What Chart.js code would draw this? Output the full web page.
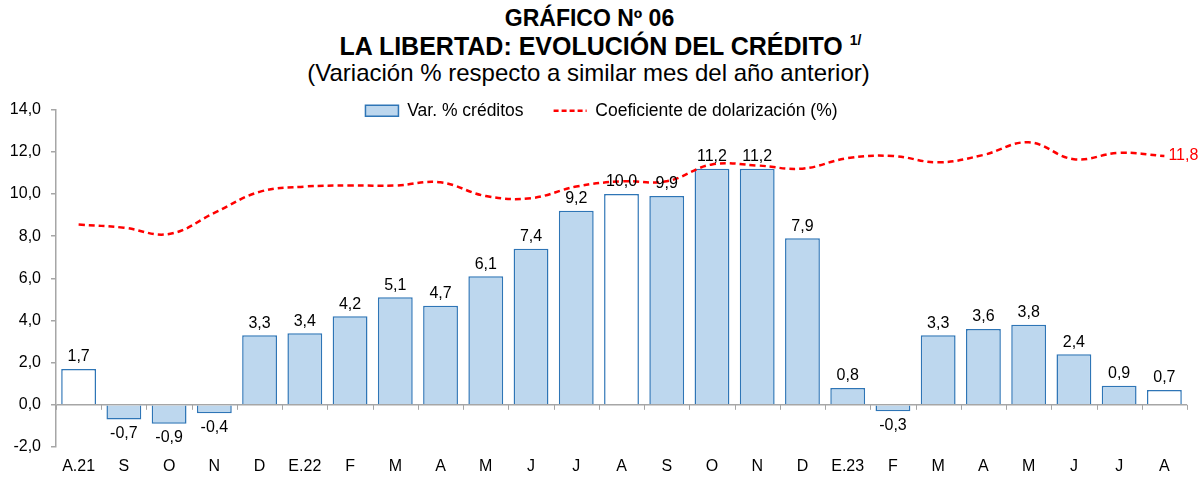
<!DOCTYPE html>
<html>
<head>
<meta charset="utf-8">
<script src="https://cdn.jsdelivr.net/npm/chart.js@4.4.0/dist/chart.umd.min.js"></script>
<style>
  html, body { margin: 0; padding: 0; background: #fff; }
  body { width: 1201px; height: 477px; overflow: hidden; font-family: "Liberation Sans", Arial, sans-serif; color: #000; }
  #titles { height: 90px; text-align: center; white-space: nowrap; }
  .t1 { font-weight: bold; font-size: 23px; line-height: 28px; padding-top: 4px; height: 28px; padding-right: 22px; }
  .t2 { font-weight: bold; font-size: 25px; line-height: 28px; height: 28px; }
  .t2 sup { font-size: 14px; vertical-align: 10px; line-height: 0; }
  .t3 { font-size: 24px; line-height: 26px; padding-right: 24px; }
  #wrap { position: relative; width: 1201px; height: 387px; }
</style>
</head>
<body>
<div id="titles">
  <div class="t1">GRÁFICO Nº 06</div>
  <div class="t2">LA LIBERTAD: EVOLUCIÓN DEL CRÉDITO <sup>1/</sup></div>
  <div class="t3">(Variación % respecto a similar mes del año anterior)</div>
</div>
<div id="wrap"><canvas id="creditoChart"></canvas></div>
<script>
// Data
const months = ['A.21', 'S', 'O', 'N', 'D', 'E.22', 'F', 'M', 'A', 'M', 'J', 'J',
                'A', 'S', 'O', 'N', 'D', 'E.23', 'F', 'M', 'A', 'M', 'J', 'J', 'A'];
const creditVar = [1.7, -0.7, -0.9, -0.4, 3.3, 3.4, 4.2, 5.1, 4.7, 6.1, 7.4, 9.2,
                   10.0, 9.9, 11.2, 11.2, 7.9, 0.8, -0.3, 3.3, 3.6, 3.8, 2.4, 0.9, 0.7];
const dollarization = [8.55, 8.4, 8.1, 9.1, 10.1, 10.35, 10.4, 10.4, 10.55, 9.9, 9.8, 10.35,
                       10.6, 10.6, 11.4, 11.35, 11.2, 11.7, 11.8, 11.5, 11.85, 12.45, 11.65, 11.95, 11.8];
const yTicks = { min: -2, max: 14, step: 2 };

const BAR_FILL = '#BDD7EE';
const BAR_LINE = '#2E75B6';
const RED = '#FF0000';
const AXIS = '#A6A6A6';
const FONT = '"Liberation Sans", Arial, sans-serif';
const LEGEND_PAD = 30;

const fmt = v => v.toFixed(1).replace('.', ',');
// August of each year is drawn hollow
const isHollow = i => i % 12 === 0;

// value labels on bars and last point of the line
const valueLabels = {
  id: 'valueLabels',
  afterDatasetsDraw(chart) {
    const ctx = chart.ctx;
    ctx.save();
    ctx.font = '16px ' + FONT;
    ctx.textAlign = 'center';
    const barMeta = chart.getDatasetMeta(0);
    barMeta.data.forEach((bar, i) => {
      const v = creditVar[i];
      ctx.fillStyle = '#000';
      if (v >= 0) {
        ctx.textBaseline = 'bottom';
        ctx.fillText(fmt(v), bar.x, bar.y - 4);
      } else {
        ctx.textBaseline = 'top';
        ctx.fillText(fmt(v), bar.x, bar.y + 6);
      }
    });
    const lineMeta = chart.getDatasetMeta(1);
    const last = lineMeta.data[lineMeta.data.length - 1];
    ctx.fillStyle = RED;
    ctx.textAlign = 'left';
    ctx.textBaseline = 'middle';
    ctx.fillText(fmt(dollarization[dollarization.length - 1]), last.x + 4, last.y);
    ctx.restore();
  }
};

// tick marks under the zero line between categories
const zeroTicks = {
  id: 'zeroTicks',
  beforeDatasetsDraw(chart) {
    const x = chart.scales.x, y = chart.scales.y;
    const y0 = y.getPixelForValue(0);
    const half = (x.getPixelForValue(1) - x.getPixelForValue(0)) / 2;
    const ctx = chart.ctx;
    ctx.save();
    ctx.strokeStyle = AXIS;
    ctx.lineWidth = 1;
    for (let i = 0; i <= months.length; i++) {
      const px = Math.round(x.getPixelForValue(i) - half) + 0.5;
      ctx.beginPath();
      ctx.moveTo(px, y0);
      ctx.lineTo(px, y0 + 5);
      ctx.stroke();
    }
    ctx.restore();
  }
};

// the legend sits over the top of the plot, like in the original
const legendOverlap = {
  id: 'legendOverlap',
  beforeInit(chart) {
    const fit = chart.legend.fit;
    chart.legend.fit = function () {
      fit.call(this);
      this.height = 2;
    };
  },
  afterLayout(chart) {
    const lg = chart.legend;
    lg.top = 12 - LEGEND_PAD;
    lg.bottom = lg.top + 2 * LEGEND_PAD + 20;
    lg.left += 8;
    lg.right += 8;
  }
};

const ctx = document.getElementById('creditoChart').getContext('2d');
const creditoChart = new Chart(ctx, {
  type: 'bar',
  data: {
    labels: months,
    datasets: [{
      label: 'Var. % créditos',
      data: creditVar,
      backgroundColor: c => isHollow(c.dataIndex) ? '#FFFFFF' : BAR_FILL,
      borderColor: BAR_LINE,
      borderWidth: 1.5,
      barPercentage: 0.77,
      categoryPercentage: 1,
      order: 1
    }, {
      type: 'line',
      label: 'Coeficiente de dolarización (%)',
      data: dollarization,
      borderColor: RED,
      backgroundColor: RED,
      borderWidth: 2.5,
      borderDash: [6, 4],
      pointRadius: 0,
      tension: 0.4,
      fill: false,
      pointStyle: 'line',
      order: 0
    }]
  },
  options: {
    responsive: true,
    maintainAspectRatio: false,
    animation: false,
    layout: { padding: { top: 8, right: 14, bottom: 0, left: 0 } },
    plugins: {
      legend: {
        position: 'top',
        labels: {
          font: { family: FONT, size: 17.5 },
          color: '#000',
          usePointStyle: true,
          pointStyleWidth: 33,
          boxHeight: 11,
          padding: LEGEND_PAD,
          sort: (a, b) => a.datasetIndex - b.datasetIndex,
          generateLabels(chart) {
            const items = Chart.defaults.plugins.legend.labels.generateLabels(chart);
            items.forEach(it => {
              if (it.datasetIndex === 0) {
                it.fillStyle = BAR_FILL;
                it.strokeStyle = BAR_LINE;
                it.pointStyle = 'rect';
                it.lineWidth = 1.5;
              } else {
                it.pointStyle = 'line';
                it.lineWidth = 2.5;
                it.lineDash = [5, 3];
              }
            });
            return items;
          }
        }
      },
      tooltip: { enabled: false }
    },
    scales: {
      x: {
        afterFit(scale) { scale.height = 30; },
        grid: { display: false, drawTicks: false },
        border: { display: false },
        ticks: { font: { family: FONT, size: 16 }, color: '#000', padding: 10, maxRotation: 0, autoSkip: false }
      },
      y: {
        min: yTicks.min,
        max: yTicks.max,
        afterFit(scale) { scale.width = 56; },
        border: { color: AXIS, width: 1.5 },
        grid: {
          color: c => c.tick && c.tick.value === 0 ? AXIS : 'rgba(0,0,0,0)',
          tickColor: AXIS,
          tickLength: 5,
          lineWidth: 1.5
        },
        ticks: {
          stepSize: yTicks.step,
          font: { family: FONT, size: 16 },
          color: '#000',
          padding: 10,
          callback: v => fmt(v)
        }
      }
    }
  },
  plugins: [valueLabels, zeroTicks, legendOverlap]
});
</script>
</body>
</html>
